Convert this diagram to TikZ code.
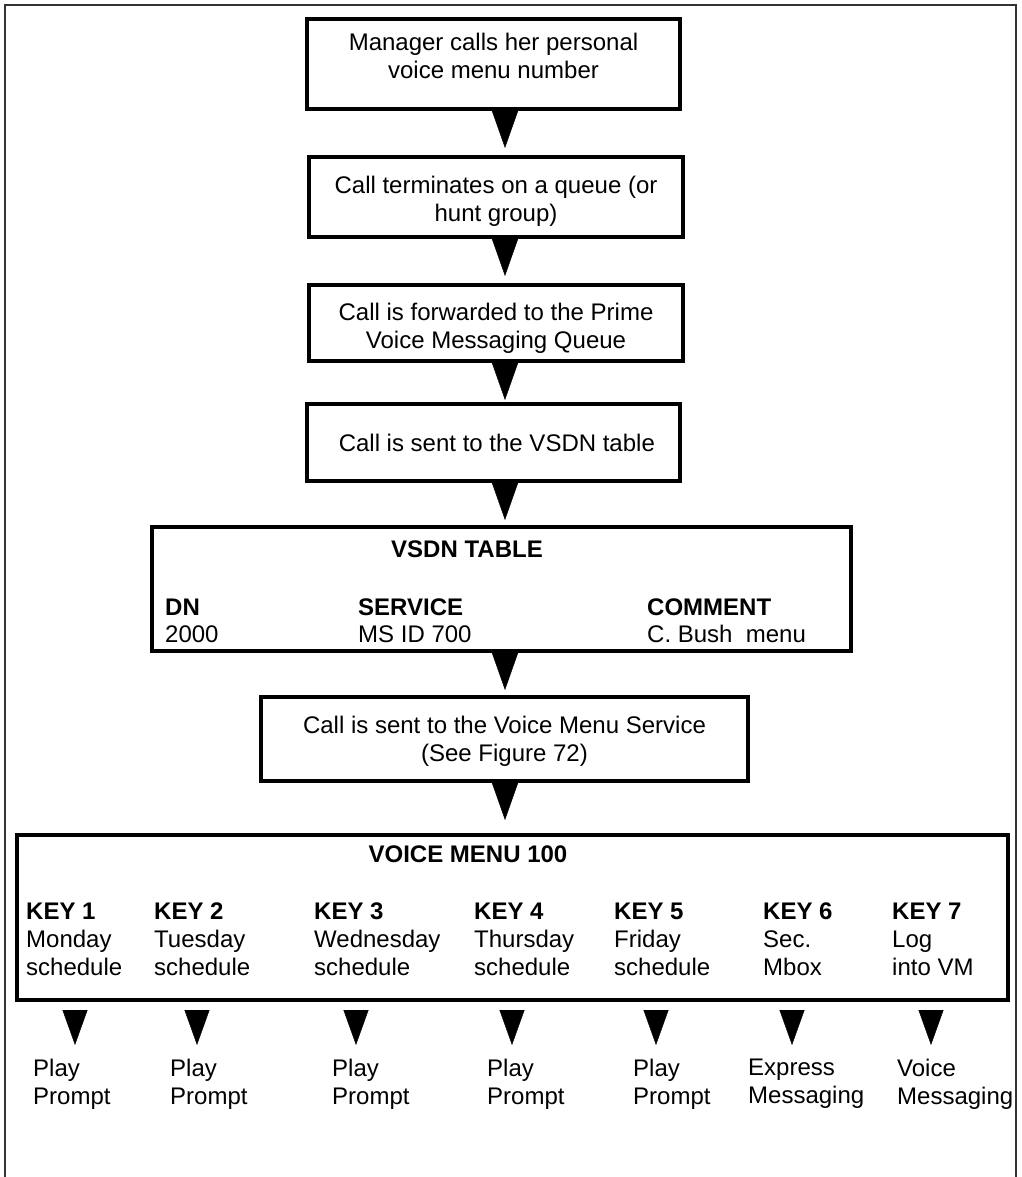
\documentclass[tikz,border=0pt]{standalone}
\usepackage{fontspec}
\setmainfont{Liberation Sans}
\usetikzlibrary{arrows.meta}

\tikzset{
  flowbox/.style={draw, line width=4pt, align=center, inner sep=0pt},
  flowarrow/.style={line width=0.4pt, -{Triangle[width=26pt,length=37pt]}},
  keyarrow/.style={line width=0.4pt, -{Triangle[width=25pt,length=35pt]},
    shorten <=8pt, shorten >=14pt},
  celltext/.style={inner sep=0pt, anchor=base west},
  menutext/.style={inner sep=0pt, anchor=north west, align=left},
}

\begin{document}
\frenchspacing
\begin{tikzpicture}[x=1pt, y=-1pt, font=\fontsize{24}{28}\selectfont]
  \useasboundingbox (0,0) rectangle (1021,1177);

  %% outer frame, open at the bottom
  \draw[line width=1.6pt, black!80] (5,1177) -- (5,5) -- (1016,5) -- (1016,1177);

  %% main call flow
  \node[flowbox, minimum width=373pt, minimum height=90pt] (mgr) at (493.5,64)
    {Manager calls her personal\\voice menu number\\[-12pt]\mbox{}};
  \node[flowbox, minimum width=374pt, minimum height=80pt] (queue) at (496,197)
    {\rule{0pt}{25.5pt}Call terminates on a queue (or\\hunt group)};
  \node[flowbox, minimum width=374pt, minimum height=76pt] (prime) at (496,323)
    {\rule{0pt}{27.5pt}Call is forwarded to the Prime\\Voice Messaging Queue};
  \node[flowbox, minimum width=373pt, minimum height=77pt] (tosdn) at (493.5,442.5)
    {\ Call is sent to the VSDN table};
  \node[flowbox, minimum width=699pt, minimum height=124pt] (vsdn) at (501.5,589) {};
  \node[flowbox, minimum width=487pt, minimum height=84pt] (tomenu) at (504.5,739)
    {\rule{0pt}{21.5pt}Call is sent to the Voice Menu Service\\(See Figure 72)};
  \node[flowbox, minimum width=991pt, minimum height=165pt] (vm) at (512.5,917.5) {};

  %% VSDN table contents
  \node[inner sep=0pt, anchor=base] (vsdn-title) at (467,557) {\textbf{VSDN TABLE}};
  \foreach \x/\nm/\hd/\val in {165/dn/DN/2000, 358/svc/SERVICE/MS ID 700,
                               647/cmt/COMMENT/{C. Bush\ \ menu}}{
    \node[celltext] (\nm-head) at (\x,615) {\textbf{\hd}};
    \node[celltext] (\nm-val) at (\x,642) {\val};
  }

  %% arrows down the flow
  \coordinate (axis) at (505,0);
  \draw[flowarrow, shorten >=7pt] (mgr.south -| axis) -- (queue.north -| axis);
  \draw[flowarrow, shorten >=7pt] (queue.south -| axis) -- (prime.north -| axis);
  \draw[flowarrow, shorten >=2pt] (prime.south -| axis) -- (tosdn.north -| axis);
  \draw[flowarrow, shorten >=5pt] (tosdn.south -| axis) -- (vsdn.north -| axis);
  \draw[flowarrow, shorten >=5pt] (vsdn.south -| axis) -- (tomenu.north -| axis);
  \draw[flowarrow, shorten >=13pt] (tomenu.south -| axis) -- (vm.north -| axis);

  %% voice menu keys and where each one goes
  \node[inner sep=0pt, anchor=base] (vm-title) at (468,862) {\textbf{VOICE MENU 100}};
  \foreach \i/\kx/\cx/\rx/\wa/\wb/\ra/\rb in {
    1/26/75/33/Monday/schedule/Play/Prompt,
    2/154/197/170/Tuesday/schedule/Play/Prompt,
    3/314/356/332/Wednesday/schedule/Play/Prompt,
    4/474/512/487/Thursday/schedule/Play/Prompt,
    5/614/656/633/Friday/schedule/Play/Prompt,
    6/763/792/748/Sec./Mbox/Express/Messaging,
    7/892/931/897/Log/into VM/Voice/Messaging}{
    \node[menutext] (key\i) at (\kx,903) {\textbf{KEY \i}\\\wa\\\wb};
    \node[menutext] (res\i) at (\rx,1059) {\ra\\\rb};
    \coordinate (col\i) at (\cx,0);
    \draw[keyarrow] (vm.south -| col\i) -- (res\i.north -| col\i);
  }
\end{tikzpicture}
\end{document}
